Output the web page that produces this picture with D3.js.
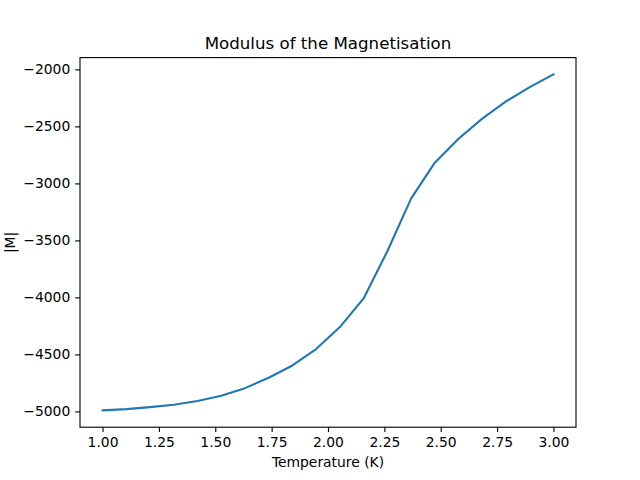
<!DOCTYPE html>
<html>
<head>
<meta charset="utf-8">
<script src="https://cdn.jsdelivr.net/npm/d3@7"></script>
<style>
  body { margin: 0; background: #fff; }
  text { font-family: "DejaVu Sans", sans-serif; fill: #000; }
</style>
</head>
<body>
<svg id="chart" width="640" height="480"></svg>
<script>
// ------------------ DATA ------------------
let temperatures = d3.range(20).map(i => 1 + i * 2 / 19);
let magnetisation = [-4991, -4980, -4962, -4941, -4909, -4863, -4796, -4705, -4597, -4453,
    -4260, -4009, -3595, -3134, -2818, -2608, -2432, -2281, -2155, -2044];
let xTicks = [1.00, 1.25, 1.50, 1.75, 2.00, 2.25, 2.50, 2.75, 3.00];
let yTicks = [-5000, -4500, -4000, -3500, -3000, -2500, -2000];

// ------------------ LAYOUT ------------------
let svg = d3.select("#chart");
let plotLeft = 80, plotTop = 57.6, plotWidth = 496, plotHeight = 369.6;
let pt = 100 / 72;  // px per point at dpi 100

let pad = (d3.max(magnetisation) - d3.min(magnetisation)) * 0.05;
let x = d3.scaleLinear().domain([0.9, 3.1]).range([plotLeft, plotLeft + plotWidth]);
let y = d3.scaleLinear()
    .domain([d3.min(magnetisation) - pad, d3.max(magnetisation) + pad])
    .range([plotTop + plotHeight, plotTop]);

let fmtMinus = (s) => s.replace("-", "\u2212");

// x axis
svg.append("g")
    .attr("transform", "translate(0," + (plotTop + plotHeight) + ")")
    .call(d3.axisBottom(x).tickValues(xTicks).tickFormat(d3.format(".2f"))
        .tickSizeOuter(0).tickSize(3.5 * pt).tickPadding(3.5 * pt))
    .call(g => g.select(".domain").remove())
    .call(g => g.selectAll("line").attr("stroke", "#000").attr("stroke-width", 0.8 * pt))
    .call(g => g.selectAll("text").attr("font-size", (10 * pt) + "px").style("font-family", "DejaVu Sans"));

// y axis
svg.append("g")
    .attr("transform", "translate(" + plotLeft + ",0)")
    .call(d3.axisLeft(y).tickValues(yTicks).tickFormat(d => fmtMinus(String(d)))
        .tickSizeOuter(0).tickSize(3.5 * pt).tickPadding(3.5 * pt))
    .call(g => g.select(".domain").remove())
    .call(g => g.selectAll("line").attr("stroke", "#000").attr("stroke-width", 0.8 * pt))
    .call(g => g.selectAll("text").attr("font-size", (10 * pt) + "px").style("font-family", "DejaVu Sans"));

// line
let line = d3.line()
    .x((d, i) => x(temperatures[i]))
    .y(d => y(d));

svg.append("path")
    .datum(magnetisation)
    .attr("d", line)
    .attr("fill", "none")
    .attr("stroke", "#1f77b4")
    .attr("stroke-width", 1.5 * pt)
    .attr("stroke-linejoin", "round")
    .attr("stroke-linecap", "square");

// frame
svg.append("rect")
    .attr("x", plotLeft).attr("y", plotTop)
    .attr("width", plotWidth).attr("height", plotHeight)
    .attr("fill", "none").attr("stroke", "#000").attr("stroke-width", 0.8 * pt);

// labels
svg.append("text")
    .attr("x", plotLeft + plotWidth / 2).attr("y", plotTop - 6 * pt)
    .attr("text-anchor", "middle").attr("font-size", (12 * pt) + "px")
    .text("Modulus of the Magnetisation");

svg.append("text")
    .attr("x", plotLeft + plotWidth / 2).attr("y", 467)
    .attr("text-anchor", "middle").attr("font-size", (10 * pt) + "px")
    .text("Temperature (K)");

svg.append("text")
    .attr("transform", "translate(15," + (plotTop + plotHeight / 2) + ") rotate(-90)")
    .attr("text-anchor", "middle").attr("font-size", (10 * pt) + "px")
    .text("|M|");
</script>
</body>
</html>
